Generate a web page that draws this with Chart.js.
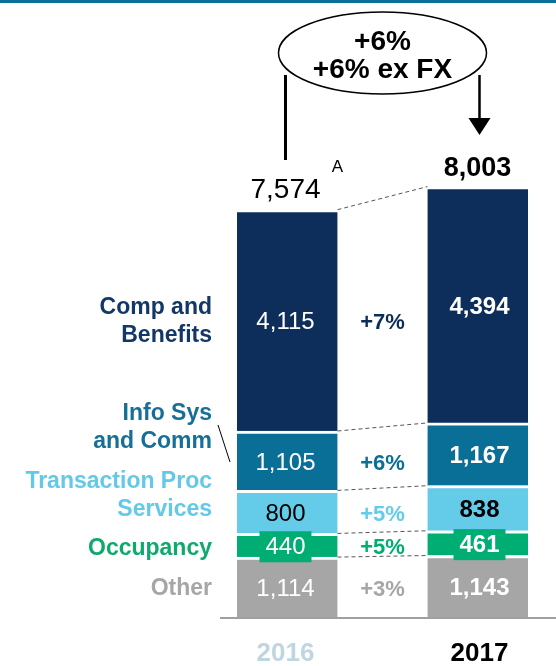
<!DOCTYPE html>
<html>
<head>
<meta charset="utf-8">
<script src="https://cdn.jsdelivr.net/npm/chart.js@4.4.1/dist/chart.umd.min.js"></script>
<style>
  html, body { margin: 0; padding: 0; background: #fff; }
  #wrap { position: relative; width: 556px; height: 666px; }
</style>
</head>
<body>
<div id="wrap"><canvas id="chart"></canvas></div>
<script>
// stacked bottom-up
const categories = ['Other', 'Occupancy', 'Transaction Proc Services', 'Info Sys and Comm', 'Comp and Benefits'];
const categoryLines = [['Other'], ['Occupancy'], ['Transaction Proc', 'Services'], ['Info Sys', 'and Comm'], ['Comp and', 'Benefits']];
const years = ['2016', '', '2017'];
const values2016 = [1114, 440, 800, 1105, 4115];
const values2017 = [1143, 461, 838, 1167, 4394];
const growth = ['+3%', '+5%', '+5%', '+6%', '+7%'];
const totalGrowth = ['+6%', '+6% ex FX'];
const footnote = 'A';

const colors = ['#a6a6a6', '#00ad72', '#64cbe9', '#0a6f96', '#0d2d5a'];
const labelColors = ['#a6a6a6', '#10a96c', '#62c9e8', '#176f97', '#133767'];
const valueColors = ['#fff', '#fff', '#000', '#fff', '#fff'];
const FONT = "'Liberation Sans', Arial, sans-serif";

const fmt = v => v.toLocaleString('en-US');

const overlay = {
  id: 'overlay',
  afterDatasetsDraw(chart) {
    const { ctx, chartArea } = chart;
    const x = chart.scales.x;
    const metas = chart.data.datasets.map((d, i) => chart.getDatasetMeta(i));
    ctx.save();

    // dashed connectors between the two bars
    ctx.strokeStyle = '#555';
    ctx.lineWidth = 1;
    ctx.setLineDash([4, 3]);
    metas.forEach(m => {
      const a = m.data[0], b = m.data[2];
      ctx.beginPath();
      ctx.moveTo(a.x + a.width / 2, a.y);
      ctx.lineTo(b.x - b.width / 2, b.y);
      ctx.stroke();
    });
    ctx.setLineDash([]);

    // values inside segments
    ctx.textAlign = 'center';
    ctx.textBaseline = 'middle';
    metas.forEach((m, i) => {
      [0, 2].forEach(idx => {
        const el = m.data[idx];
        const cy = (el.y + el.base) / 2 + 1.5;
        const v = idx === 0 ? values2016[i] : values2017[i];
        if (i === 1) {
          ctx.fillStyle = colors[1];
          ctx.fillRect(el.x - 26, cy - 15.5, 52, 31);
        }
        ctx.font = (idx === 0 ? '' : 'bold ') + '24px ' + FONT;
        ctx.fillStyle = valueColors[i];
        ctx.fillText(fmt(v), el.x, cy + 1);
      });
    });

    // growth in the middle column
    const midX = x.getPixelForValue(1);
    ctx.font = 'bold 22px ' + FONT;
    metas.forEach((m, i) => {
      const el = m.data[0];
      ctx.fillStyle = colors[i];
      ctx.fillText(growth[i], midX, (el.y + el.base) / 2 + 3);
    });

    // category labels on the left
    const shift = [2, 3, -16, -33, 1];
    ctx.textAlign = 'right';
    ctx.font = 'bold 23px ' + FONT;
    metas.forEach((m, i) => {
      const el = m.data[0];
      const lines = categoryLines[i];
      const cy = (el.y + el.base) / 2 + shift[i];
      ctx.fillStyle = labelColors[i];
      lines.forEach((t, k) => {
        ctx.fillText(t, 212, cy + (k - (lines.length - 1) / 2) * 28);
      });
    });
    // pointer for Info Sys
    ctx.strokeStyle = '#000';
    ctx.lineWidth = 1;
    ctx.beginPath();
    ctx.moveTo(218, 425);
    ctx.lineTo(230, 462);
    ctx.stroke();

    // totals
    const top16 = metas[4].data[0], top17 = metas[4].data[2];
    const tot16 = values2016.reduce((s, v) => s + v, 0);
    const tot17 = values2017.reduce((s, v) => s + v, 0);
    ctx.textAlign = 'center';
    ctx.textBaseline = 'alphabetic';
    ctx.fillStyle = '#000';
    ctx.font = '28px ' + FONT;
    ctx.fillText(fmt(tot16), top16.x, top16.y - 12);
    ctx.font = '17px ' + FONT;
    ctx.fillText(footnote, top16.x + 52, top16.y - 38);
    ctx.font = 'bold 27px ' + FONT;
    ctx.fillText(fmt(tot17), top17.x - 2, top17.y - 11);

    // growth bubble with arrow
    const ex = midX, ey = 53;
    ctx.lineWidth = 3;
    ctx.beginPath();
    ctx.moveTo(top16.x, 75);
    ctx.lineTo(top16.x, 160);
    ctx.stroke();
    ctx.lineWidth = 2.5;
    ctx.beginPath();
    ctx.moveTo(top17.x, 75);
    ctx.lineTo(top17.x, 120);
    ctx.stroke();
    ctx.beginPath();
    ctx.moveTo(top17.x - 11, 118);
    ctx.lineTo(top17.x + 11, 118);
    ctx.lineTo(top17.x, 135);
    ctx.closePath();
    ctx.fill();
    ctx.beginPath();
    ctx.ellipse(ex, ey, 104, 41, 0, 0, Math.PI * 2);
    ctx.fillStyle = '#fff';
    ctx.fill();
    ctx.lineWidth = 1.5;
    ctx.stroke();
    ctx.fillStyle = '#000';
    ctx.textBaseline = 'middle';
    ctx.font = 'bold 28px ' + FONT;
    ctx.fillText(totalGrowth[0], ex, 42);
    ctx.fillText(totalGrowth[1], ex, 70);

    // baseline and top band
    ctx.fillStyle = '#a0a0a0';
    ctx.fillRect(220, chartArea.bottom, chart.width - 220, 2);
    ctx.fillStyle = '#0a7098';
    ctx.fillRect(0, 0, chart.width, 3);
    ctx.restore();
  }
};

new Chart(document.getElementById('chart'), {
  type: 'bar',
  data: {
    labels: years,
    datasets: categories.map((c, i) => ({
      label: c,
      data: [values2016[i], null, values2017[i]],
      backgroundColor: colors[i],
      borderColor: '#fff',
      borderWidth: { top: 3, right: 0, bottom: 0, left: 0 },
      barThickness: 104
    }))
  },
  options: {
    responsive: true,
    maintainAspectRatio: false,
    animation: false,
    layout: { padding: { left: 237, right: 28, top: 133, bottom: -25 } },
    scales: {
      x: {
        stacked: true,
        grid: { display: false, drawTicks: false },
        border: { display: false },
        ticks: {
          padding: 24,
          color: ['#bfd6e2', '#fff', '#000'],
          font: { family: FONT, size: 26, weight: 'bold', lineHeight: 1 }
        }
      },
      y: {
        stacked: true,
        display: false,
        min: 0,
        max: 9000
      }
    },
    plugins: {
      legend: { display: false },
      tooltip: { enabled: false }
    }
  },
  plugins: [overlay]
});
</script>
</body>
</html>
